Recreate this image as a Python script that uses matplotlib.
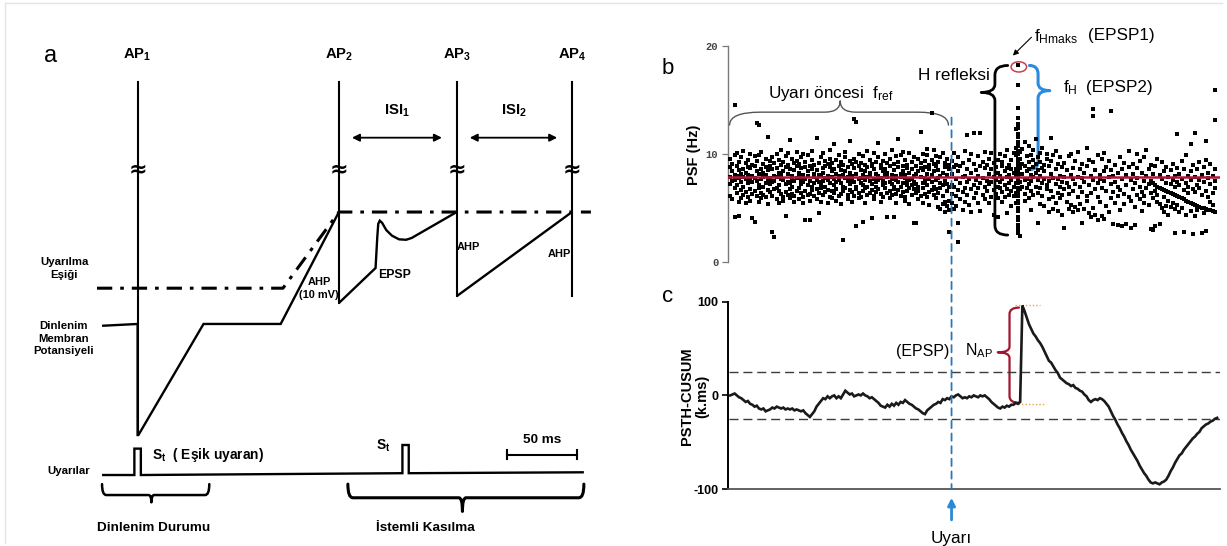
import numpy as np
import matplotlib
matplotlib.use("Agg")
import matplotlib.pyplot as plt
from matplotlib.path import Path
from matplotlib.patches import PathPatch, Ellipse, ConnectionPatch
from matplotlib.lines import Line2D
from matplotlib import font_manager as fm

plt.rcParams['axes.unicode_minus'] = False

# ---------------------------------------------------------------- data
# Panel a: schematic membrane potential (time in ms, potential in mV above rest)
ap_times = [0.0, 143.2, 227.0, 309.0]
ap_labels = ["AP_1", "AP_2", "AP_3", "AP_4"]
ap_top = 26.6
ap_bottoms = [-12.2, 2.3, 3.05, 3.05]

membrane_t = [-25.3, 0.0, 0.0, 0.6, 46.9, 101.8, 143.2]
membrane_v = [-0.2, 0.0, -12.2, -12.2, 0.0, 0.0, 12.3]
ahp2_t = [143.2, 169.3, 170.5, 171.2, 172.3, 174.0, 177.0, 181.0, 186.0, 191.0, 195.0, 227.0]
ahp2_v = [2.3, 6.15, 9.5, 11.0, 11.35, 11.1, 10.3, 9.7, 9.3, 9.25, 9.45, 12.3]
ahp3_t = [227.0, 309.0]
ahp3_v = [3.05, 12.3]

threshold_t = [-28.9, 103.4, 143.2, 322.5]
threshold_v = [3.93, 3.93, 12.3, 12.3]

stim_t = [-25.3, -2.3, -2.3, 2.3, 2.3, 188.4, 188.4, 192.9, 192.9, 317.5]
stim_v = [-16.6, -16.6, -13.7, -13.7, -16.6, -16.4, -13.3, -13.3, -16.4, -16.3]

scale_bar_ms = 50.0

# Panel b: peri-stimulus frequency (Hz), one list per 1 ms bin starting at -100 ms
psf_t0 = -100
psf_columns = [
    [7.9, 6.1, 8.8, 9.6, 7.2], [8.4, 5.8, 7.5, 9.1], [14.6, 6.9, 8.1, 4.2, 9.9, 7.6],
    [7.1, 8.9, 6.4, 10.1, 8.0], [5.6, 7.8, 9.3, 4.3, 8.5], [6.7, 8.2, 9.7, 7.4, 5.9],
    [8.6, 7.0, 10.3, 6.2, 7.9], [9.2, 6.5, 7.7, 8.3, 5.5], [7.3, 8.8, 6.0, 9.5, 8.1],
    [6.8, 10.0, 7.6, 5.7, 8.7], [8.0, 6.3, 9.0, 7.4, 4.1], [3.7, 7.8, 8.9, 6.6, 9.8],
    [12.9, 7.5, 6.1, 8.4, 9.4], [12.7, 8.2, 6.9, 7.1, 9.9, 5.6], [7.7, 8.6, 6.4, 10.2, 5.9],
    [9.1, 7.0, 8.3, 6.2, 7.9], [6.0, 8.8, 7.3, 9.6, 8.1], [11.6, 7.6, 6.7, 8.5, 5.4],
    [8.9, 7.2, 9.4, 6.5, 7.8], [2.8, 7.4, 8.6, 6.1, 9.7], [2.3, 8.0, 6.8, 9.2, 7.5],
    [7.9, 5.8, 8.7, 10.0, 6.9], [8.3, 6.6, 9.5, 7.1, 5.5], [6.3, 8.1, 7.7, 9.0, 10.4],
    [7.6, 9.3, 6.0, 8.4, 5.7], [4.3, 8.8, 7.2, 6.5, 9.8], [9.0, 7.4, 6.2, 8.2, 10.1],
    [11.3, 8.6, 6.8, 7.3, 5.9], [7.0, 9.6, 8.0, 6.3, 7.7], [8.5, 6.1, 9.2, 7.5, 5.6],
    [6.6, 8.9, 7.8, 10.2, 9.4], [7.9, 5.8, 8.3, 6.9, 9.1], [9.7, 7.2, 6.4, 8.7, 7.6],
    [8.1, 10.0, 6.0, 7.4, 5.5], [3.9, 7.7, 8.8, 6.6, 9.3], [6.2, 8.4, 7.1, 9.9, 8.0],
    [3.9, 7.5, 8.9, 6.3, 5.7], [8.6, 7.0, 9.5, 6.7, 10.3], [7.3, 8.2, 6.1, 9.0, 7.9],
    [11.5, 6.8, 8.5, 7.6, 5.8], [4.5, 9.2, 7.4, 8.1, 6.4], [8.0, 6.9, 9.7, 7.2, 5.6],
    [7.5, 8.7, 6.2, 10.1, 8.3], [9.4, 7.8, 6.5, 8.9, 7.0], [6.7, 8.0, 9.1, 5.5, 7.6],
    [8.8, 7.3, 6.0, 9.6, 10.4], [7.9, 6.6, 8.4, 5.9, 9.2], [10.9, 7.1, 8.6, 6.4, 7.7],
    [8.2, 9.5, 6.8, 7.4, 5.7], [6.1, 8.9, 7.6, 9.9, 8.0], [7.3, 8.5, 6.3, 9.3, 5.4],
    [2.0, 8.1, 7.0, 6.6, 9.0], [9.7, 7.8, 6.9, 8.4, 10.2], [7.5, 6.2, 8.8, 5.8, 7.9],
    [8.3, 9.4, 6.7, 7.2, 11.2], [6.5, 8.0, 9.1, 7.6, 5.6], [13.3, 7.4, 8.7, 6.1, 9.6],
    [13.0, 3.3, 8.2, 7.0, 6.8, 9.3], [7.7, 8.9, 6.4, 10.0, 5.9], [9.2, 7.3, 8.5, 6.0, 7.8],
    [3.7, 8.1, 6.6, 9.8, 7.1], [7.6, 9.0, 6.9, 8.4, 5.5], [8.8, 7.0, 10.3, 6.2, 7.9],
    [6.4, 8.3, 7.5, 9.5, 8.0], [4.1, 7.2, 8.9, 6.7, 9.1], [8.6, 7.7, 6.1, 10.1, 5.8],
    [7.0, 9.3, 8.2, 6.5, 7.4], [11.0, 8.0, 6.8, 7.6, 9.7], [7.8, 6.3, 8.7, 9.0, 5.6],
    [9.4, 7.1, 8.4, 6.0, 7.5], [6.9, 8.6, 7.3, 10.0, 8.1], [4.2, 7.9, 9.2, 6.4, 8.3],
    [8.9, 7.4, 6.6, 9.6, 5.9], [7.2, 8.1, 10.4, 6.2, 7.7], [4.2, 8.5, 7.0, 9.1, 6.8],
    [9.8, 7.6, 8.0, 6.3, 5.5], [7.4, 8.8, 6.7, 9.3, 11.4], [8.2, 6.1, 7.9, 9.9, 7.0],
    [6.5, 8.4, 7.3, 10.2, 8.9], [7.8, 9.5, 6.0, 8.1, 5.7], [8.7, 7.1, 9.0, 6.6, 7.5],
    [6.9, 8.3, 7.6, 10.1, 5.4], [9.3, 7.7, 8.6, 6.2, 7.1], [3.6, 8.0, 6.8, 9.7, 7.4],
    [3.6, 7.2, 8.9, 6.4, 8.2], [8.4, 9.6, 7.0, 5.8, 6.6], [12.1, 7.9, 8.7, 6.1, 9.2],
    [7.3, 8.5, 10.0, 6.9, 5.5], [8.8, 7.5, 6.3, 9.4, 7.8], [6.0, 8.2, 9.9, 7.1, 10.5],
    [7.7, 9.0, 6.5, 8.6, 5.3], [13.8, 8.1, 7.4, 6.7, 9.5], [9.1, 7.0, 8.4, 6.2, 10.4],
    [7.6, 8.9, 5.9, 9.8, 6.8], [8.5, 6.4, 7.8, 5.1, 9.3], [6.9, 9.7, 7.3, 4.9, 8.0],
    [8.3, 7.1, 10.1, 5.4, 6.1], [7.5, 9.2, 5.6, 8.8, 4.6], [9.6, 6.6, 8.1, 5.2, 7.2],
    [2.8, 8.6, 7.0, 5.7, 9.0, 4.8],
    # after the stimulus
    [8.2, 6.3, 9.4, 5.5, 7.1], [7.0, 8.8, 4.9, 10.1], [6.1, 9.0, 7.7, 5.2],
    [1.9, 3.6, 8.4, 6.7, 9.7], [7.3, 5.8, 8.9], [9.2, 6.5, 7.9, 4.8],
    [8.0, 6.9, 10.3, 5.6], [11.8, 7.4, 8.6, 6.2], [9.5, 5.3, 7.7],
    [6.8, 8.3, 10.0, 4.6], [12.0, 7.1, 9.1, 5.9], [8.5, 6.4, 7.6],
    [9.8, 5.5, 8.0, 6.9], [12.0, 7.3, 4.7, 8.9], [6.2, 9.3, 7.8],
    [8.7, 5.8, 10.2, 7.0], [7.5, 6.6, 9.0], [5.5, 8.2, 7.2, 9.6],
    [10.1, 6.0, 8.6, 7.4], [7.9, 4.4, 9.2, 6.7], [8.8, 6.3, 7.6],
    [4.2, 9.5, 7.0, 8.3, 5.9], [6.9, 8.0, 10.0, 7.4], [7.7, 5.6, 8.9, 6.5, 9.3],
    [8.4, 7.1, 6.0, 9.8], [4.5, 7.9, 8.7, 6.8, 10.4], [7.3, 9.0, 6.2, 8.1],
    [8.6, 5.2, 7.6, 9.5, 6.6], [7.0, 8.3, 10.1, 6.1],
    [9.9, 8.6, 7.3, 6.4, 10.6, 5.5, 8.0, 12.3],
    [18.3, 16.4, 14.3, 13.4, 12.8, 12.4, 11.9, 11.6, 11.1, 10.8, 10.3, 10.0, 9.6,
     9.4, 9.0, 8.8, 8.4, 8.2, 7.9, 7.5, 7.3, 6.9, 6.7, 6.3, 6.1, 5.7, 5.5, 5.0,
     4.7, 4.2, 3.9, 3.4, 3.1, 2.7],
    [8.7, 7.4, 9.6, 6.8, 2.4, 10.2], [9.1, 7.0, 10.5, 8.2], [7.6, 8.9, 6.3, 11.1, 5.7],
    [8.4, 9.8, 6.9, 7.7], [10.8, 7.2, 8.6, 5.9, 9.3], [4.8, 8.1, 9.9, 7.5, 6.6],
    [9.5, 7.9, 8.8, 10.4, 6.2], [11.4, 8.3, 7.0, 9.1], [3.6, 9.7, 7.6, 8.5, 6.4],
    [10.1, 8.0, 6.9, 9.3, 5.4], [7.3, 8.7, 10.6, 6.1], [9.0, 7.7, 5.2, 8.4],
    [6.8, 9.6, 7.1, 10.0], [8.9, 5.8, 7.5, 4.6], [11.5, 8.2, 6.6, 9.4],
    [4.9, 7.8, 9.9, 6.0], [8.6, 7.2, 5.5, 10.3], [6.4, 9.1, 7.7, 4.7],
    [8.0, 5.9, 9.7, 7.0], [7.4, 4.4, 8.8, 6.2], [3.2, 9.2, 6.8, 7.9],
    [8.5, 5.6, 7.3], [7.0, 9.8, 4.9, 6.3], [8.1, 5.3, 10.0],
    [6.6, 4.6, 8.7, 7.7], [9.4, 5.1, 7.2], [7.9, 4.8, 6.0, 10.2],
    [8.6, 5.4, 7.0], [3.6, 6.5, 9.1, 7.8], [7.4, 4.9, 8.3],
    [8.9, 6.1, 5.7, 10.6], [7.1, 4.5, 9.5], [6.4, 8.0, 4.2],
    [14.2, 13.5, 7.6, 9.3, 5.0], [8.5, 6.8, 4.4], [3.9, 7.3, 9.9, 6.0],
    [8.1, 5.6, 7.7], [9.6, 6.9, 4.3], [4.0, 7.5, 8.4, 10.1],
    [6.6, 8.8, 5.2], [7.9, 9.4, 4.6], [14.0, 7.2, 5.9, 8.5],
    [3.5, 8.0, 6.5], [7.4, 9.0, 5.5], [3.4, 8.3, 6.1, 7.0],
    [9.7, 6.7, 4.8], [3.3, 7.7, 8.6], [6.3, 9.2, 5.4],
    [3.5, 7.1, 8.1], [8.8, 6.0, 10.3], [3.2, 7.6, 5.7],
    [9.1, 6.8, 8.2], [3.4, 7.3, 5.1], [8.7, 6.2, 10.0, 7.8],
    [5.8, 7.0, 9.4], [8.3, 6.5, 4.7], [7.5, 9.7, 5.5, 6.1],
    [8.0, 6.9, 10.4], [7.2, 5.3, 8.6], [3.1, 7.5, 6.4, 9.0],
    [7.3, 5.9, 8.2, 3.0], [7.1, 6.6, 8.9, 3.3], [7.0, 5.6, 9.6, 6.2],
    [6.9, 3.5, 8.1, 5.4], [6.8, 7.7, 5.0, 9.3], [6.7, 6.0, 8.4, 4.6],
    [6.6, 7.3, 5.2, 8.8], [6.5, 5.7, 7.9, 4.4], [6.4, 8.5, 5.1, 7.2],
    [6.3, 9.1, 5.5, 7.6], [2.7, 6.2, 8.0, 4.9, 7.0], [11.9, 6.1, 7.4, 5.3, 8.7],
    [6.0, 8.2, 4.6, 7.1], [5.9, 7.7, 9.4, 5.0], [2.8, 5.8, 8.6, 6.7],
    [5.7, 7.3, 4.4, 9.9], [5.6, 8.0, 6.4, 7.0], [10.9, 5.5, 7.6, 4.7, 8.4],
    [2.6, 5.4, 6.8, 9.0], [12.0, 5.3, 7.9, 4.3, 6.5], [5.2, 8.6, 7.1, 4.8],
    [5.1, 6.9, 9.3, 7.6], [2.7, 5.0, 8.1, 6.2], [5.0, 7.4, 4.5, 8.8],
    [11.2, 2.9, 4.9, 6.6, 9.5], [4.8, 7.8, 6.0, 8.3], [4.8, 5.6, 7.2, 9.1],
    [4.7, 6.4, 8.0, 5.3], [16.0, 13.2, 4.6, 7.5, 6.9, 8.6],
]
f_ref = 7.85

# Panel c: PSTH-CUSUM (k.ms), one value per 1 ms starting at -100 ms
cusum_t0 = -100
cusum_values = [
    0, 1, 2, 0, -2, -3, -5, -7, -6, -9,
    -10, -12, -11, -14, -15, -14, -17, -16, -15, -13,
    -14, -12, -13, -14, -13, -15, -14, -15, -14, -16,
    -15, -16, -17, -16, -19, -21, -23, -20, -17, -12,
    -9, -6, -3, -4, -1, -3, -1, 0, -3, -1,
    -3, 1, 5, 3, 1, 2, -1, 0, 1, 0,
    2, 0, -1, -3, -2, -4, -6, -8, -11, -12,
    -13, -10, -12, -9, -11, -8, -10, -7, -8, -5,
    -7, -9, -10, -12, -14, -15, -17, -19, -20, -16,
    -14, -12, -10, -9, -7, -8, -4, -5, -3, -4,
    -1, -2, 0, 1, -1, -3, -2, -3, -1, -2,
    0, -1, -2, 0, -1, 0, -2, -4, -7, -9,
    -11, -13, -14, -12, -13, -11, -12, -10, -10, -8,
    -9, -7, 96, 90, 83, 76, 71, 66, 63, 59,
    56, 52, 47, 42, 37, 35, 31, 27, 24, 19,
    17, 15, 13, 12, 10, 11, 8, 7, 5, 4,
    1, -1, -5, -7, -5, -4, -5, -3, -4, -6,
    -9, -12, -17, -22, -26, -31, -35, -40, -44, -49,
    -53, -58, -62, -66, -70, -75, -79, -83, -86, -90,
    -93, -94, -93, -94, -95, -93, -92, -90, -86, -81,
    -77, -72, -68, -64, -62, -58, -55, -52, -49, -46,
    -44, -41, -39, -35, -33, -31, -30, -28, -27, -25,
    -24,
]
cusum_band = 25

# ---------------------------------------------------------------- fonts
def has_font(name):
    try:
        fm.findfont(fm.FontProperties(family=name), fallback_to_default=False)
        return True
    except Exception:
        return False

SANS = 'Liberation Sans' if has_font('Liberation Sans') else 'DejaVu Sans'
NARROW = 'Liberation Sans Narrow' if has_font('Liberation Sans Narrow') else None
MONO = 'Liberation Mono' if has_font('Liberation Mono') else 'DejaVu Sans Mono'


def narrow(size):
    if NARROW:
        return dict(family=NARROW, fontweight='bold', fontsize=size)
    return dict(family=SANS, fontweight='bold', fontsize=size * 0.86)


def sub(base, s):
    return r"$\mathregular{%s_{%s}}$" % (base, s)


# ---------------------------------------------------------------- helpers
def brace(ax, s0, s1, sm, end, spine, tip, r_end, r_tip, vertical=False, **kw):
    pts = [(s0, end), (s0, spine), (s0 + r_end, spine), (sm - r_tip, spine),
           (sm, spine), (sm, tip), (sm, spine), (sm + r_tip, spine),
           (s1 - r_end, spine), (s1, spine), (s1, end)]
    codes = [Path.MOVETO, Path.CURVE3, Path.CURVE3, Path.LINETO,
             Path.CURVE3, Path.CURVE3, Path.CURVE3, Path.CURVE3,
             Path.LINETO, Path.CURVE3, Path.CURVE3]
    if vertical:
        pts = [(d, s) for s, d in pts]
    patch = PathPatch(Path(pts, codes), fill=False, clip_on=False,
                      capstyle='round', joinstyle='round', **kw)
    ax.add_patch(patch)


W, H = 1227, 546
fig = plt.figure(figsize=(W / 100, H / 100), dpi=100)
fig.patch.set_facecolor('white')

# faint frame
fig.add_artist(Line2D([0.004, 0.996], [0.994, 0.994], transform=fig.transFigure,
                      color='#e4e4e4', lw=1))
fig.add_artist(Line2D([0.004, 0.004], [0.006, 0.994], transform=fig.transFigure,
                      color='#e4e4e4', lw=1))

# ================================================================ panel a
ax_a = fig.add_axes([0, 0, 620 / W, 1])
ax_a.set_xlim(-97.9, 343.2)
ax_a.set_ylim(-24.4, 35.6)
ax_a.axis('off')

k = dict(color='black', lw=1.7, solid_capstyle='butt', solid_joinstyle='miter')
ax_a.plot(threshold_t, threshold_v, color='black', lw=2.2,
          linestyle=(0, (5, 2.6, 1.2, 2.6)))
ax_a.plot(membrane_t, membrane_v, **k)
ax_a.plot(ahp2_t, ahp2_v, **k)
ax_a.plot(ahp3_t, ahp3_v, **k)
for t, lab, bot in zip(ap_times, ap_labels, ap_bottoms):
    ax_a.plot([t, t], [ap_top, bot], color='black', lw=1.5)
    ax_a.text(t, 17.0, '≈', ha='center', va='center', fontsize=16,
              fontweight='bold', family='DejaVu Sans')
    base, s = lab.split('_')
    ax_a.text(t, 29.6, sub(base, s), ha='center', va='center', **narrow(12.5))

ax_a.plot(stim_t, stim_v, **k)

ax_a.text(-61.9, 29.4, 'a', ha='center', va='center', family=SANS, fontsize=17)

lab_kw = dict(ha='center', va='center', linespacing=1.35)
ax_a.text(-52.3, 6.1, 'Uyarılma\nEşiği', **lab_kw, **narrow(9.5))
ax_a.text(-53.0, -1.6, 'Dinlenim\nMembran\nPotansiyeli', **lab_kw, **narrow(9.5))
ax_a.text(-48.8, -16.15, 'Uyarılar', **lab_kw, **narrow(9.5))
ax_a.text(129.0, 3.9, 'AHP\n(10 mV)', **lab_kw, **narrow(9.2))
ax_a.text(182.8, 5.36, 'EPSP', **lab_kw, **narrow(10.3))
ax_a.text(235.3, 8.44, 'AHP', **lab_kw, **narrow(9.2))
ax_a.text(300.0, 7.67, 'AHP', **lab_kw, **narrow(9.2))

# inter-spike intervals
for t0, t1, s in [(ap_times[1], ap_times[2], '1'), (ap_times[2], ap_times[3], '2')]:
    a0, a1 = t0 + 9.3, t1 - 10.5
    ax_a.annotate('', xy=(a1, 20.47), xytext=(a0, 20.47),
                  arrowprops=dict(arrowstyle='<|-|>', color='black', lw=1.3,
                                  mutation_scale=11, shrinkA=0, shrinkB=0))
    ax_a.text((a0 + a1) / 2, 23.4, sub('ISI', s), ha='center', va='center',
              **narrow(12.5))

ax_a.text(10.2, -14.35, sub('S', 't') + '  ( Eşik uyaran)', ha='left',
          va='center', **narrow(11.5))
ax_a.text(174.9, -13.4, sub('S', 't'), ha='center', va='center', **narrow(11.5))

# 50 ms scale bar
sb0 = 262.7
ax_a.plot([sb0, sb0 + scale_bar_ms], [-14.35, -14.35], color='black', lw=1.5)
for x in (sb0, sb0 + scale_bar_ms):
    ax_a.plot([x, x], [-13.9, -14.8], color='black', lw=1.5)
ax_a.text(sb0 + scale_bar_ms / 2, -12.7, '50 ms', ha='center', va='center',
          **narrow(11.3))

brace(ax_a, -25.3, 51.0, 9.8, -17.6, -18.8, -19.6, 3.0, 2.0,
      color='black', lw=1.8)
brace(ax_a, 149.6, 317.5, 231.1, -17.6, -19.1, -20.6, 3.5, 2.5,
      color='black', lw=2.2)
ax_a.text(11.7, -22.4, 'Dinlenim Durumu', ha='center', va='center', **narrow(11.3))
ax_a.text(204.4, -22.4, 'İstemli Kasılma', ha='center', va='center', **narrow(11.3))

# ================================================================ panels b, c
x_lo, x_hi = -101.0, 121.3
left = 728 / W
width = 492 / W

ax_b = fig.add_axes([left, 1 - 262 / H, width, (262 - 46.4) / H])
ax_b.set_xlim(x_lo, x_hi)
ax_b.set_ylim(0, 20)
for side in ('top', 'right', 'bottom'):
    ax_b.spines[side].set_visible(False)
ax_b.spines['left'].set_color('#7a7a7a')
ax_b.spines['left'].set_linewidth(1.0)
ax_b.set_xticks([])
ax_b.set_yticks([0, 10, 20])
ax_b.set_yticklabels(['0', '10', '20'], family=MONO, fontsize=7.5,
                     fontweight='bold', color='#444444')
ax_b.tick_params(axis='y', length=4, width=0.9, color='#7a7a7a', pad=3)
ax_b.patch.set_alpha(0)

psf_t, psf_f = [], []
for i, col in enumerate(psf_columns):
    psf_t += [psf_t0 + i] * len(col)
    psf_f += col
psf_t = np.array(psf_t, dtype=float)
psf_f = np.array(psf_f, dtype=float)
ax_b.scatter(psf_t, psf_f, s=7, c='black', marker='s', linewidths=0, zorder=3,
             clip_on=False)
ax_b.plot([x_lo + 0.2, x_hi], [f_ref, f_ref], color='#b0183a', lw=1.8, zorder=4)

ipk = int(np.argmax(psf_f))
t_pk, f_pk = psf_t[ipk], psf_f[ipk]
ax_b.add_patch(Ellipse((t_pk + 0.4, f_pk - 0.2), 7.0, 0.95, fill=False,
                       edgecolor='#c8404e', lw=1.1, clip_on=False, zorder=5))
ax_b.annotate('', xy=(t_pk - 2.3, f_pk + 0.85), xytext=(t_pk + 6.1, f_pk + 2.55),
              arrowprops=dict(arrowstyle='-|>', color='black', lw=0.8,
                              mutation_scale=8, shrinkA=0, shrinkB=0),
              annotation_clip=False)

brace(ax_b, -100.3, -1.4, -50.3, 12.7, 13.9, 14.95, 14.0, 7.0,
      color='#555555', lw=1.0)
brace(ax_b, 2.5, 18.23, 15.73, 25.4, 19.6, 13.4, 0.9, 0.75, vertical=True,
      color='black', lw=2.0)
brace(ax_b, 8.56, 18.23, 15.9, 35.2, 39.1, 44.4, 0.8, 0.7, vertical=True,
      color='#2b8be0', lw=2.2)

tb = dict(family=SANS, fontsize=12.3, va='center')
ax_b.text(-83.0, 15.6, 'Uyarı öncesi  ' + sub('f', 'ref'), ha='left', **tb)
ax_b.text(17.4, 17.3, 'H refleksi', ha='right', **tb)
ax_b.text(37.4, 20.9, sub('f', 'Hmaks'), ha='left', **tb)
ax_b.text(61.8, 21.0, '(EPSP1)', ha='left', **tb)
ax_b.text(50.5, 16.2, sub('f', 'H'), ha='left', **tb)
ax_b.text(60.9, 16.2, '(EPSP2)', ha='left', **tb)

ax_c = fig.add_axes([left, 1 - 489 / H, width, (489 - 301.8) / H])
ax_c.set_xlim(x_lo, x_hi)
ax_c.set_ylim(-100, 100)
for side in ('top', 'right'):
    ax_c.spines[side].set_visible(False)
ax_c.spines['left'].set_linewidth(1.4)
ax_c.spines['bottom'].set_linewidth(1.3)
ax_c.spines['bottom'].set_color('#555555')
ax_c.set_xticks([])
ax_c.set_yticks([-100, 0, 100])
ax_c.set_yticklabels(['-100', '0', '100'], family=SANS, fontsize=9,
                     fontweight='bold')
ax_c.tick_params(axis='y', length=4, width=1.2, pad=3)
ax_c.patch.set_alpha(0)

cusum = np.array(cusum_values, dtype=float)
cusum_t = cusum_t0 + np.arange(len(cusum))
for lvl in (cusum_band, -cusum_band):
    ax_c.plot([x_lo + 0.3, x_hi], [lvl, lvl], color='#3c3c3c', lw=1.0,
              linestyle=(0, (6.5, 3.5)))
ax_c.plot(cusum_t, cusum, color='#1a1a1a', lw=1.9, solid_joinstyle='miter', zorder=4)

jpk = int(np.argmax(cusum))
c_top, c_base = cusum[jpk], cusum[jpk - 1]
t_jump = cusum_t[jpk]
ax_c.plot([t_jump - 3.5, t_jump + 8], [c_top + 0.8, c_top + 0.8], color='#e9a344',
          lw=1.0, linestyle=(0, (1, 1.5)))
ax_c.plot([t_jump - 2, t_jump + 10.5], [c_base - 1.9, c_base - 1.9], color='#e9a344',
          lw=1.0, linestyle=(0, (1, 1.5)))
brace(ax_c, c_base - 0.9, c_top - 2.2, 46.0, t_jump - 1.5, t_jump - 5.8, 20.9, 7.0, 6.0,
      vertical=True, color='#a01530', lw=1.6)
ax_c.text(-0.8, 47.4, '(EPSP)', ha='right', va='center', family=SANS, fontsize=11.5)
ax_c.text(6.3, 47.4, sub('N', 'AP'), ha='left', va='center', family=SANS, fontsize=11.5)

# stimulus marker running through both panels
con = ConnectionPatch(xyA=(0, 13.4), coordsA=ax_b.transData,
                      xyB=(0, -100), coordsB=ax_c.transData,
                      color='#2a78b8', lw=1.3, linestyle=(0, (4, 3)), zorder=2)
fig.add_artist(con)
ax_c.annotate('', xy=(0, -109.4), xytext=(0, -133.0),
              arrowprops=dict(arrowstyle='-|>', color='#2a8ad6', lw=2.0,
                              mutation_scale=11, shrinkA=0, shrinkB=0),
              annotation_clip=False)
ax_c.text(0, -153.0, 'Uyarı', ha='center', va='center', family=SANS, fontsize=12.3,
          clip_on=False)

# axis titles and panel letters
fig.text(694 / W, 1 - 155 / H, 'PSF (Hz)', rotation=90, ha='center', va='center',
         family=SANS, fontweight='bold', fontsize=10.5)
fig.text(687 / W, 1 - 396 / H, 'PSTH-CUSUM', rotation=90, ha='center', va='center',
         family=SANS, fontweight='bold', fontsize=10.5)
fig.text(702 / W, 1 - 396 / H, '(k.ms)', rotation=90, ha='center', va='center',
         family=SANS, fontweight='bold', fontsize=10.5)
fig.text(668 / W, 1 - 68 / H, 'b', ha='center', va='center', family=SANS, fontsize=16)
fig.text(668 / W, 1 - 297 / H, 'c', ha='center', va='center', family=SANS, fontsize=16)

fig.savefig('out.png', dpi=100, facecolor='white')
